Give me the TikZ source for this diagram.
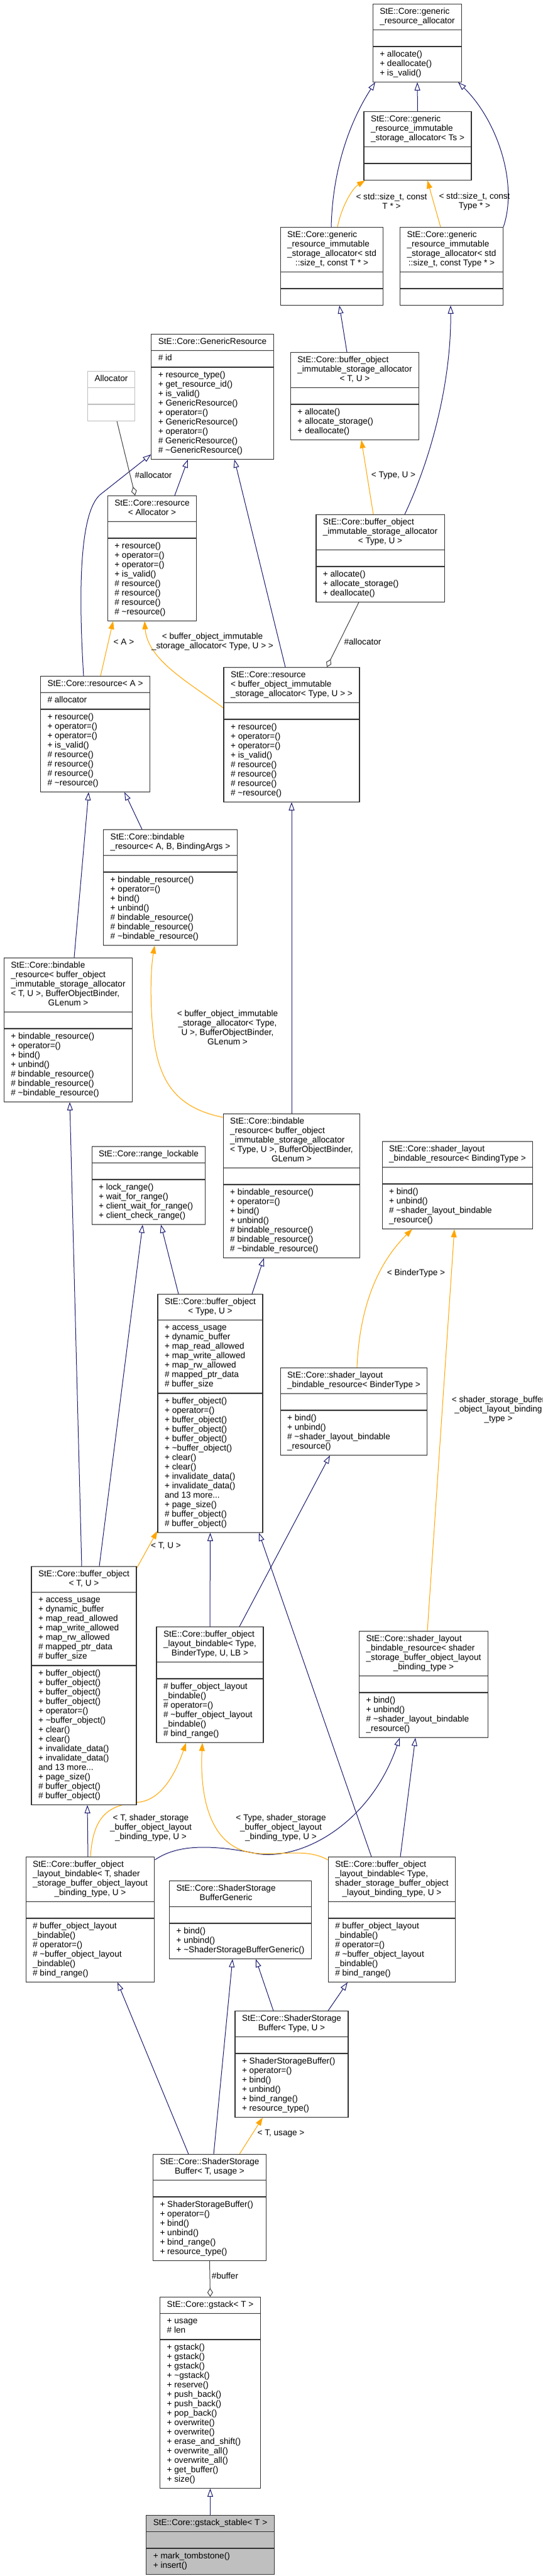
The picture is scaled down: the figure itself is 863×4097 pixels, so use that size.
\documentclass[tikz,border=0pt]{standalone}
\usepackage{fontspec}
\setmainfont{Liberation Sans}
\usepackage{tikz}
\usetikzlibrary{shapes.multipart,arrows.meta}
\pgfdeclarelayer{edgelayer}
\pgfdeclarelayer{nodelayer}
\pgfsetlayers{edgelayer,nodelayer,main}
\definecolor{midblue}{HTML}{191970}
\definecolor{tmplorange}{HTML}{FFA500}
\definecolor{usegray}{HTML}{404040}
\definecolor{boxline}{HTML}{333333}
\definecolor{extline}{HTML}{BFBFBF}
\definecolor{mainfill}{HTML}{BFBFBF}
\newcommand{\clsfont}{\fontsize{13.6}{15}\selectfont}
\newcommand{\ctrline}[1]{\hfill#1\hfill}
\tikzstyle{cls}=[rectangle split, rectangle split parts=3, rectangle split part align=left, draw=boxline, line width=1.2pt, fill=white, align=left, inner xsep=11pt, inner ysep=5pt, font=\clsfont, anchor=north]
\tikzstyle{extcls}=[style=cls, draw=extline]
\tikzstyle{maincls}=[style=cls, fill=mainfill]
\tikzstyle{inherit}=[-{Triangle[open,length=13pt,width=9pt]}, draw=midblue, line width=1pt]
\tikzstyle{templ}=[-{Triangle[length=13pt,width=9pt]}, draw=tmplorange, line width=1pt]
\tikzstyle{usage}=[-{Diamond[open,length=14pt,width=9pt]}, draw=usegray, line width=1pt]
\tikzstyle{elabel}=[font=\clsfont, align=center, inner sep=0pt]

\begin{document}
\begin{tikzpicture}[x=1pt, y=-1pt]
    \useasboundingbox (0,0) rectangle (863,4097);
    \begin{pgfonlayer}{nodelayer}
        \node [style=cls] (gra) at (664, 6) {\strut StE::Core::generic\\\_resource\_allocator\strut
            \nodepart{two}\strut
            \nodepart{three}\strut + allocate()\\+ deallocate()\\+ is\_valid()\strut};
        \node [style=cls] (grisTs) at (664.5, 177) {\strut StE::Core::generic\\\_resource\_immutable\\\_storage\_allocator< Ts >\strut
            \nodepart{two}\strut
            \nodepart{three}\strut};
        \node [style=cls] (grisT) at (528, 361) {\strut StE::Core::generic\\\_resource\_immutable\\\_storage\_allocator< std\\\ctrline{::size\_t, const T * >}\strut
            \nodepart{two}\strut
            \nodepart{three}\strut};
        \node [style=cls] (grisType) at (718.5, 361) {\strut StE::Core::generic\\\_resource\_immutable\\\_storage\_allocator< std\\\ctrline{::size\_t, const Type * >}\strut
            \nodepart{two}\strut
            \nodepart{three}\strut};
        \node [style=cls] (genRes) at (338, 531) {\strut StE::Core::GenericResource\strut
            \nodepart{two}\strut\# id\strut
            \nodepart{three}\strut + resource\_type()\\+ get\_resource\_id()\\+ is\_valid()\\+ GenericResource()\\+ operator=()\\+ GenericResource()\\+ operator=()\\\# GenericResource()\\\# \textasciitilde GenericResource()\strut};
        \node [style=extcls] (alloc) at (177, 590) {\strut Allocator\strut
            \nodepart{two}\strut
            \nodepart{three}\strut};
        \node [style=cls] (boisaTU) at (564.5, 560) {\strut StE::Core::buffer\_object\\\_immutable\_storage\_allocator\\\ctrline{< T, U >}\strut
            \nodepart{two}\strut
            \nodepart{three}\strut + allocate()\\+ allocate\_storage()\\+ deallocate()\strut};
        \node [style=cls] (resAlloc) at (242, 788) {\strut StE::Core::resource\\\ctrline{< Allocator >}\strut
            \nodepart{two}\strut
            \nodepart{three}\strut + resource()\\+ operator=()\\+ operator=()\\+ is\_valid()\\\# resource()\\\# resource()\\\# resource()\\\# \textasciitilde resource()\strut};
        \node [style=cls] (boisaType) at (605, 818) {\strut StE::Core::buffer\_object\\\_immutable\_storage\_allocator\\\ctrline{< Type, U >}\strut
            \nodepart{two}\strut
            \nodepart{three}\strut + allocate()\\+ allocate\_storage()\\+ deallocate()\strut};
        \node [style=cls] (resA) at (151.5, 1075) {\strut StE::Core::resource< A >\strut
            \nodepart{two}\strut\# allocator\strut
            \nodepart{three}\strut + resource()\\+ operator=()\\+ operator=()\\+ is\_valid()\\\# resource()\\\# resource()\\\# resource()\\\# \textasciitilde resource()\strut};
        \node [style=cls] (resBoisa) at (464, 1061) {\strut StE::Core::resource\\< buffer\_object\_immutable\\\_storage\_allocator< Type, U > >\strut
            \nodepart{two}\strut
            \nodepart{three}\strut + resource()\\+ operator=()\\+ operator=()\\+ is\_valid()\\\# resource()\\\# resource()\\\# resource()\\\# \textasciitilde resource()\strut};
        \node [style=cls] (bindABC) at (271, 1319) {\strut StE::Core::bindable\\\_resource< A, B, BindingArgs >\strut
            \nodepart{two}\strut
            \nodepart{three}\strut + bindable\_resource()\\+ operator=()\\+ bind()\\+ unbind()\\\# bindable\_resource()\\\# bindable\_resource()\\\# \textasciitilde bindable\_resource()\strut};
        \node [style=cls] (bindTU) at (108.5, 1523) {\strut StE::Core::bindable\\\_resource< buffer\_object\\\_immutable\_storage\_allocator\\< T, U >, BufferObjectBinder,\\\ctrline{GLenum >}\strut
            \nodepart{two}\strut
            \nodepart{three}\strut + bindable\_resource()\\+ operator=()\\+ bind()\\+ unbind()\\\# bindable\_resource()\\\# bindable\_resource()\\\# \textasciitilde bindable\_resource()\strut};
        \node [style=cls] (bindType) at (464, 1771) {\strut StE::Core::bindable\\\_resource< buffer\_object\\\_immutable\_storage\_allocator\\< Type, U >, BufferObjectBinder,\\\ctrline{GLenum >}\strut
            \nodepart{two}\strut
            \nodepart{three}\strut + bindable\_resource()\\+ operator=()\\+ bind()\\+ unbind()\\\# bindable\_resource()\\\# bindable\_resource()\\\# \textasciitilde bindable\_resource()\strut};
        \node [style=cls] (rangeLock) at (236.5, 1823) {\strut StE::Core::range\_lockable\strut
            \nodepart{two}\strut
            \nodepart{three}\strut + lock\_range()\\+ wait\_for\_range()\\+ client\_wait\_for\_range()\\+ client\_check\_range()\strut};
        \node [style=cls] (slbrBinding) at (728, 1815) {\strut StE::Core::shader\_layout\\\_bindable\_resource< BindingType >\strut
            \nodepart{two}\strut
            \nodepart{three}\strut + bind()\\+ unbind()\\\# \textasciitilde shader\_layout\_bindable\\\_resource()\strut};
        \node [style=cls] (boType) at (334.5, 2058) {\strut StE::Core::buffer\_object\\\ctrline{< Type, U >}\strut
            \nodepart{two}\strut + access\_usage\\+ dynamic\_buffer\\+ map\_read\_allowed\\+ map\_write\_allowed\\+ map\_rw\_allowed\\\# mapped\_ptr\_data\\\# buffer\_size\strut
            \nodepart{three}\strut + buffer\_object()\\+ operator=()\\+ buffer\_object()\\+ buffer\_object()\\+ buffer\_object()\\+ \textasciitilde buffer\_object()\\+ clear()\\+ clear()\\+ invalidate\_data()\\+ invalidate\_data()\\and 13 more...\\+ page\_size()\\\# buffer\_object()\\\# buffer\_object()\strut};
        \node [style=cls] (slbrBinder) at (563, 2175) {\strut StE::Core::shader\_layout\\\_bindable\_resource< BinderType >\strut
            \nodepart{two}\strut
            \nodepart{three}\strut + bind()\\+ unbind()\\\# \textasciitilde shader\_layout\_bindable\\\_resource()\strut};
        \node [style=cls] (boTU) at (133.5, 2491) {\strut StE::Core::buffer\_object\\\ctrline{< T, U >}\strut
            \nodepart{two}\strut + access\_usage\\+ dynamic\_buffer\\+ map\_read\_allowed\\+ map\_write\_allowed\\+ map\_rw\_allowed\\\# mapped\_ptr\_data\\\# buffer\_size\strut
            \nodepart{three}\strut + buffer\_object()\\+ buffer\_object()\\+ buffer\_object()\\+ buffer\_object()\\+ operator=()\\+ \textasciitilde buffer\_object()\\+ clear()\\+ clear()\\+ invalidate\_data()\\+ invalidate\_data()\\and 13 more...\\+ page\_size()\\\# buffer\_object()\\\# buffer\_object()\strut};
        \node [style=cls] (bolbType) at (334, 2587) {\strut StE::Core::buffer\_object\\\_layout\_bindable< Type,\\\ctrline{BinderType, U, LB >}\strut
            \nodepart{two}\strut
            \nodepart{three}\strut\# buffer\_object\_layout\\\_bindable()\\\# operator=()\\\# \textasciitilde buffer\_object\_layout\\\_bindable()\\\# bind\_range()\strut};
        \node [style=cls] (slbrSsbo) at (674, 2594) {\strut StE::Core::shader\_layout\\\_bindable\_resource< shader\\\_storage\_buffer\_object\_layout\\\ctrline{\_binding\_type >}\strut
            \nodepart{two}\strut
            \nodepart{three}\strut + bind()\\+ unbind()\\\# \textasciitilde shader\_layout\_bindable\\\_resource()\strut};
        \node [style=cls] (bolbT) at (143.5, 2953) {\strut StE::Core::buffer\_object\\\_layout\_bindable< T, shader\\\_storage\_buffer\_object\_layout\\\ctrline{\_binding\_type, U >}\strut
            \nodepart{two}\strut
            \nodepart{three}\strut\# buffer\_object\_layout\\\_bindable()\\\# operator=()\\\# \textasciitilde buffer\_object\_layout\\\_bindable()\\\# bind\_range()\strut};
        \node [style=cls] (bolbTypeSsbo) at (623.5, 2953) {\strut StE::Core::buffer\_object\\\_layout\_bindable< Type,\\shader\_storage\_buffer\_object\\\ctrline{\_layout\_binding\_type, U >}\strut
            \nodepart{two}\strut
            \nodepart{three}\strut\# buffer\_object\_layout\\\_bindable()\\\# operator=()\\\# \textasciitilde buffer\_object\_layout\\\_bindable()\\\# bind\_range()\strut};
        \node [style=cls] (ssbGeneric) at (382.5, 2991) {\strut StE::Core::ShaderStorage\\\ctrline{BufferGeneric}\strut
            \nodepart{two}\strut
            \nodepart{three}\strut + bind()\\+ unbind()\\+ \textasciitilde ShaderStorageBufferGeneric()\strut};
        \node [style=cls] (ssbType) at (464, 3198) {\strut StE::Core::ShaderStorage\\\ctrline{Buffer< Type, U >}\strut
            \nodepart{two}\strut
            \nodepart{three}\strut + ShaderStorageBuffer()\\+ operator=()\\+ bind()\\+ unbind()\\+ bind\_range()\\+ resource\_type()\strut};
        \node [style=cls] (ssbT) at (333.5, 3426) {\strut StE::Core::ShaderStorage\\\ctrline{Buffer< T, usage >}\strut
            \nodepart{two}\strut
            \nodepart{three}\strut + ShaderStorageBuffer()\\+ operator=()\\+ bind()\\+ unbind()\\+ bind\_range()\\+ resource\_type()\strut};
        \node [style=cls] (gstack) at (334.5, 3653) {\strut StE::Core::gstack< T >\strut
            \nodepart{two}\strut + usage\\\# len\strut
            \nodepart{three}\strut + gstack()\\+ gstack()\\+ gstack()\\+ \textasciitilde gstack()\\+ reserve()\\+ push\_back()\\+ push\_back()\\+ pop\_back()\\+ overwrite()\\+ overwrite()\\+ erase\_and\_shift()\\+ overwrite\_all()\\+ overwrite\_all()\\+ get\_buffer()\\+ size()\strut};
        \node [style=maincls] (gstackStable) at (334.5, 4000) {\strut StE::Core::gstack\_stable< T >\strut
            \nodepart{two}\strut
            \nodepart{three}\strut + mark\_tombstone()\\+ insert()\strut};
        % edge labels
        \node [style=elabel] (lblGrisT) at (623, 320) {< std::size\_t, const\\T * >};
        \node [style=elabel] (lblGrisType) at (755, 320) {< std::size\_t, const\\Type * >};
        \node [style=elabel] (lblAllocA) at (244, 756) {\#allocator};
        \node [style=elabel] (lblBoisa) at (626, 756) {< Type, U >};
        \node [style=elabel] (lblResA) at (197, 1021) {< A >};
        \node [style=elabel] (lblResBoisa) at (338, 1020) {< buffer\_object\_immutable\\\_storage\_allocator< Type, U > >};
        \node [style=elabel] (lblAllocB) at (577, 1021) {\#allocator};
        \node [style=elabel] (lblBind) at (362, 1634) {< buffer\_object\_immutable\\\_storage\_allocator< Type,\\U >, BufferObjectBinder,\\GLenum >};
        \node [style=elabel] (lblBinder) at (662, 2025) {< BinderType >};
        \node [style=elabel] (lblSsboBinding) at (793, 2242) {< shader\_storage\_buffer\\\_object\_layout\_binding\\\_type >};
        \node [style=elabel] (lblBoTU) at (264, 2459) {< T, U >};
        \node [style=elabel] (lblBolbT) at (240, 2907) {< T, shader\_storage\\\_buffer\_object\_layout\\\_binding\_type, U >};
        \node [style=elabel] (lblBolbType) at (447, 2907) {< Type, shader\_storage\\\_buffer\_object\_layout\\\_binding\_type, U >};
        \node [style=elabel] (lblSsbT) at (447, 3393) {< T, usage >};
        \node [style=elabel] (lblBuffer) at (358, 3620) {\#buffer};
    \end{pgfonlayer}
    \begin{pgfonlayer}{edgelayer}
        % inheritance
        \draw [style=inherit] (grisTs.north) to (gra.south);
        \draw [style=inherit] ([xshift=-1pt]grisT.north) .. controls (530,240) and (575,165) .. ([xshift=-67pt]gra.south);
        \draw [style=inherit] (grisType.north east) .. controls (825,290) and (790,190) .. ([xshift=65pt]gra.south);
        \draw [style=inherit] ([xshift=-12.5pt]boisaTU.north) to ([xshift=12pt]grisT.south);
        \draw [style=inherit] ([xshift=39pt]boisaType.north) .. controls (690,720) and (718,600) .. ([xshift=-1.5pt]grisType.south);
        \draw [style=inherit] ([xshift=36pt]resAlloc.north) to ([xshift=-39pt]genRes.south);
        \draw [style=inherit] ([xshift=-18.5pt]resA.north) .. controls (124,930) and (128,815) .. (159,787) -- ([yshift=8pt]genRes.south west);
        \draw [style=inherit] ([xshift=-10pt]resBoisa.north) to ([xshift=35pt]genRes.south);
        \draw [style=inherit] ([xshift=-45pt]bindABC.north) to ([xshift=46.5pt]resA.south);
        \draw [style=inherit] ([xshift=9.5pt]bindTU.north) to ([xshift=-10.5pt]resA.south);
        \draw [style=inherit] (bindType.north) to (resBoisa.south);
        \draw [style=inherit] ([xshift=-3.5pt]boTU.north) to ([xshift=2.5pt]bindTU.south);
        \draw [style=inherit] ([xshift=24.5pt]boTU.north) to ([xshift=-9.5pt]rangeLock.south);
        \draw [style=inherit] ([xshift=-50.5pt]boType.north) to ([xshift=19.5pt]rangeLock.south);
        \draw [style=inherit] ([xshift=66.5pt]boType.north) to ([xshift=-44pt]bindType.south);
        \draw [style=inherit] (bolbType.north) to (boType.south);
        \draw [style=inherit] ([xshift=47pt]bolbType.north) to ([xshift=-38pt]slbrBinder.south);
        \draw [style=inherit] ([xshift=-32.5pt]bolbTypeSsbo.north) to ([xshift=77.5pt]boType.south);
        \draw [style=inherit] ([xshift=13.5pt]bolbTypeSsbo.north) to ([xshift=-13pt]slbrSsbo.south);
        \draw [style=inherit] ([xshift=-3.5pt]bolbT.north) to ([xshift=5.5pt]boTU.south);
        \draw [style=inherit] ([yshift=-5pt]bolbT.north east) .. controls (280,2935) and (330,2932) .. (408,2948) .. controls (480,2960) and (590,2900) .. ([xshift=-38pt]slbrSsbo.south);
        \draw [style=inherit] ([xshift=-29pt]ssbType.north) to ([xshift=24.5pt]ssbGeneric.south);
        \draw [style=inherit] ([xshift=58pt]ssbType.north) to ([xshift=-70.5pt]bolbTypeSsbo.south);
        \draw [style=inherit] ([xshift=-33.5pt]ssbT.north) to ([xshift=43.5pt]bolbT.south);
        \draw [style=inherit] ([xshift=6.5pt]ssbT.north) to ([xshift=-12.5pt]ssbGeneric.south);
        \draw [style=inherit] (gstackStable.north) to (gstack.south);
        % template instances
        \draw [style=templ] ([xshift=9pt]grisT.north) .. controls (543,330) and (560,300) .. ([xshift=-83.5pt]grisTs.south);
        \draw [style=templ] ([xshift=-17.5pt]grisType.north) to ([xshift=15.5pt]grisTs.south);
        \draw [style=templ] ([xshift=-11pt]boisaType.north) to ([xshift=10.5pt]boisaTU.south);
        \draw [style=templ] ([xshift=8.5pt]resA.north) to ([xshift=-62pt]resAlloc.south);
        \draw [style=templ] ([yshift=-65pt]resBoisa.north west) .. controls (300,1085) and (235,1050) .. ([xshift=-12pt]resAlloc.south);
        \draw [style=templ] ([yshift=-6pt]bindType.north west) .. controls (280,1762) and (252,1720) .. (244,1645) .. controls (238,1590) and (240,1540) .. ([xshift=-25pt]bindABC.south);
        \draw [style=templ] ([yshift=-3pt]boTU.north east) to ([yshift=3pt]boType.south west);
        \draw [style=templ] ([xshift=5pt]slbrBinder.north) .. controls (572,2080) and (600,2010) .. ([xshift=-72pt]slbrBinding.south);
        \draw [style=templ] ([xshift=6pt]slbrSsbo.north) to ([xshift=-5pt]slbrBinding.south);
        \draw [style=templ] ([xshift=0.5pt]bolbT.north) .. controls (148,2885) and (175,2870) .. (223,2866) .. controls (262,2860) and (283,2810) .. ([xshift=-38pt]bolbType.south);
        \draw [style=templ] ([yshift=-5pt]bolbTypeSsbo.north west) .. controls (490,2940) and (450,2950) .. (413,2948) .. controls (330,2945) and (318,2850) .. ([xshift=-12pt]bolbType.south);
        \draw [style=templ] ([xshift=47.5pt]ssbT.north) to ([xshift=-46pt]ssbType.south);
        % usage
        \draw [style=usage] ([xshift=9pt]alloc.south) to ([xshift=-27pt]resAlloc.north);
        \draw [style=usage] ([xshift=-34pt]boisaType.south) to ([xshift=56pt]resBoisa.north);
        \draw [style=usage] (ssbT.south) to (gstack.north);
    \end{pgfonlayer}
\end{tikzpicture}
\end{document}
